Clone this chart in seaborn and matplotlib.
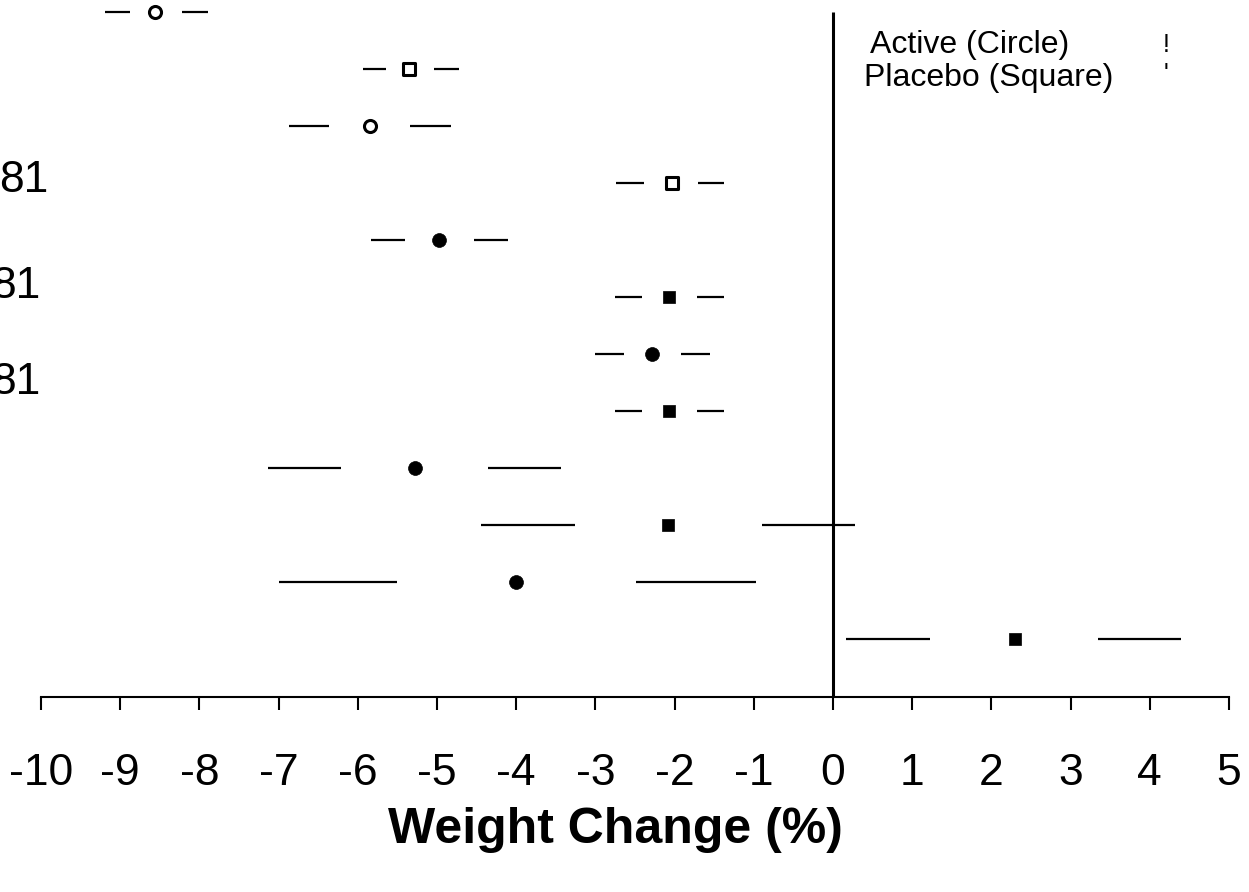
import matplotlib
matplotlib.use("Agg")
import matplotlib.pyplot as plt
import seaborn as sns
import pandas as pd
import numpy as np

# ---- data ----
rows = list(range(1, 13))
centers = [-8.56, -5.35, -5.85, -2.03, -4.97, -2.07, -2.28, -2.07, -5.28, -2.08, -4.00, 2.30]
lows    = [-9.19, -5.94, -6.87, -2.74, -5.83, -2.75, -3.00, -2.75, -7.14, -4.44, -7.00, 0.16]
highs   = [-7.89, -4.72, -4.82, -1.37, -4.10, -1.37, -1.55, -1.37, -3.43, 0.28, -0.97, 4.40]
treatment = ["Active", "Placebo", "Active", "Placebo", "Active", "Placebo",
             "Active", "Placebo", "Active", "Placebo", "Active", "Placebo"]
filled = [False, False, False, False, True, True, True, True, True, True, True, True]
row_labels = ["81", "81", "81"]
legend_labels = ["Active (Circle)", "Placebo (Square)"]
xticks = list(range(-10, 6))
xlabel = "Weight Change (%)"

df = pd.DataFrame({"row": rows, "center": centers, "low": lows, "high": highs,
                   "treatment": treatment, "filled": filled})

sns.set_theme(style="white")
plt.rcParams["font.family"] = ["Liberation Sans", "DejaVu Sans"]
plt.rcParams["text.color"] = "black"
plt.rcParams["xtick.color"] = "black"
plt.rcParams["xtick.labelcolor"] = "black"
plt.rcParams["axes.labelcolor"] = "black"

W, H = 1249, 892
fig = plt.figure(figsize=(W / 100, H / 100), dpi=100)
ax = fig.add_axes([0, 1 - 697 / H, 1, 697 / H])

# CI segments with a gap around the point estimate
left_end = (df["low"] + df["center"]) / 2
right_start = (df["center"] + df["high"]) / 2
ax.hlines(df["row"], df["low"], left_end, color="black", lw=1.6)
ax.hlines(df["row"], right_start, df["high"], color="black", lw=1.6)

# markers
marker_map = {"Active": "o", "Placebo": "s"}
for (trt, fl), sub in df.groupby(["treatment", "filled"]):
    if fl:
        sns.scatterplot(data=sub, x="center", y="row", marker=marker_map[trt],
                        s=100 if trt == "Active" else 80, color="black",
                        edgecolor="black", linewidth=0.5, ax=ax, legend=False, zorder=3)
    else:
        sns.scatterplot(data=sub, x="center", y="row", marker=marker_map[trt],
                        s=75, facecolor="white", edgecolor="black",
                        linewidth=2.2, ax=ax, legend=False, zorder=3)

# zero reference line
ax.vlines(0, 1, 13.1, color="black", lw=2.2, zorder=2)

ax.set_xlim(-10.518, 5.253)
ax.set_ylim(13.018, 0.789)
ax.set_xticks(xticks)
ax.set_xticklabels([str(t) for t in xticks], fontsize=32)
ax.set_yticks([])
ax.tick_params(axis="x", direction="out", length=9, width=1.5, pad=31,
               bottom=True, color="black", labelcolor="black")
for s in ["left", "right", "top"]:
    ax.spines[s].set_visible(False)
ax.spines["bottom"].set_bounds(-10, 5)
ax.spines["bottom"].set_linewidth(1.5)
ax.spines["bottom"].set_color("black")
ax.set_xlabel("")
ax.set_ylabel("")

# row labels (partially cut at the left edge)
def px_x(px):
    return -10.518 + px / 79.2

def px_row(py):
    return 1 + (py - 12) / 57.0

for lab, (px, py) in zip(row_labels, [(48, 180), (40, 286), (40, 383)]):
    ax.text(px_x(px), px_row(py), lab, ha="right", va="center", fontsize=32,
            color="black", clip_on=False)

# legend text
ax.text(px_x(870), px_row(45), legend_labels[0], ha="left", va="center",
        fontsize=23, color="black")
ax.text(px_x(864), px_row(78), legend_labels[1], ha="left", va="center",
        fontsize=23, color="black")
ax.text(px_x(1166), px_row(45), "!", ha="center", va="center", fontsize=18, color="black")
ax.text(px_x(1166), px_row(74), "'", ha="center", va="center", fontsize=18, color="black")

fig.text(615 / W, 1 - 830 / H, xlabel, ha="center", va="center",
         fontsize=36, fontweight="bold", color="black")

fig.savefig("out.png", dpi=100, facecolor="white")
